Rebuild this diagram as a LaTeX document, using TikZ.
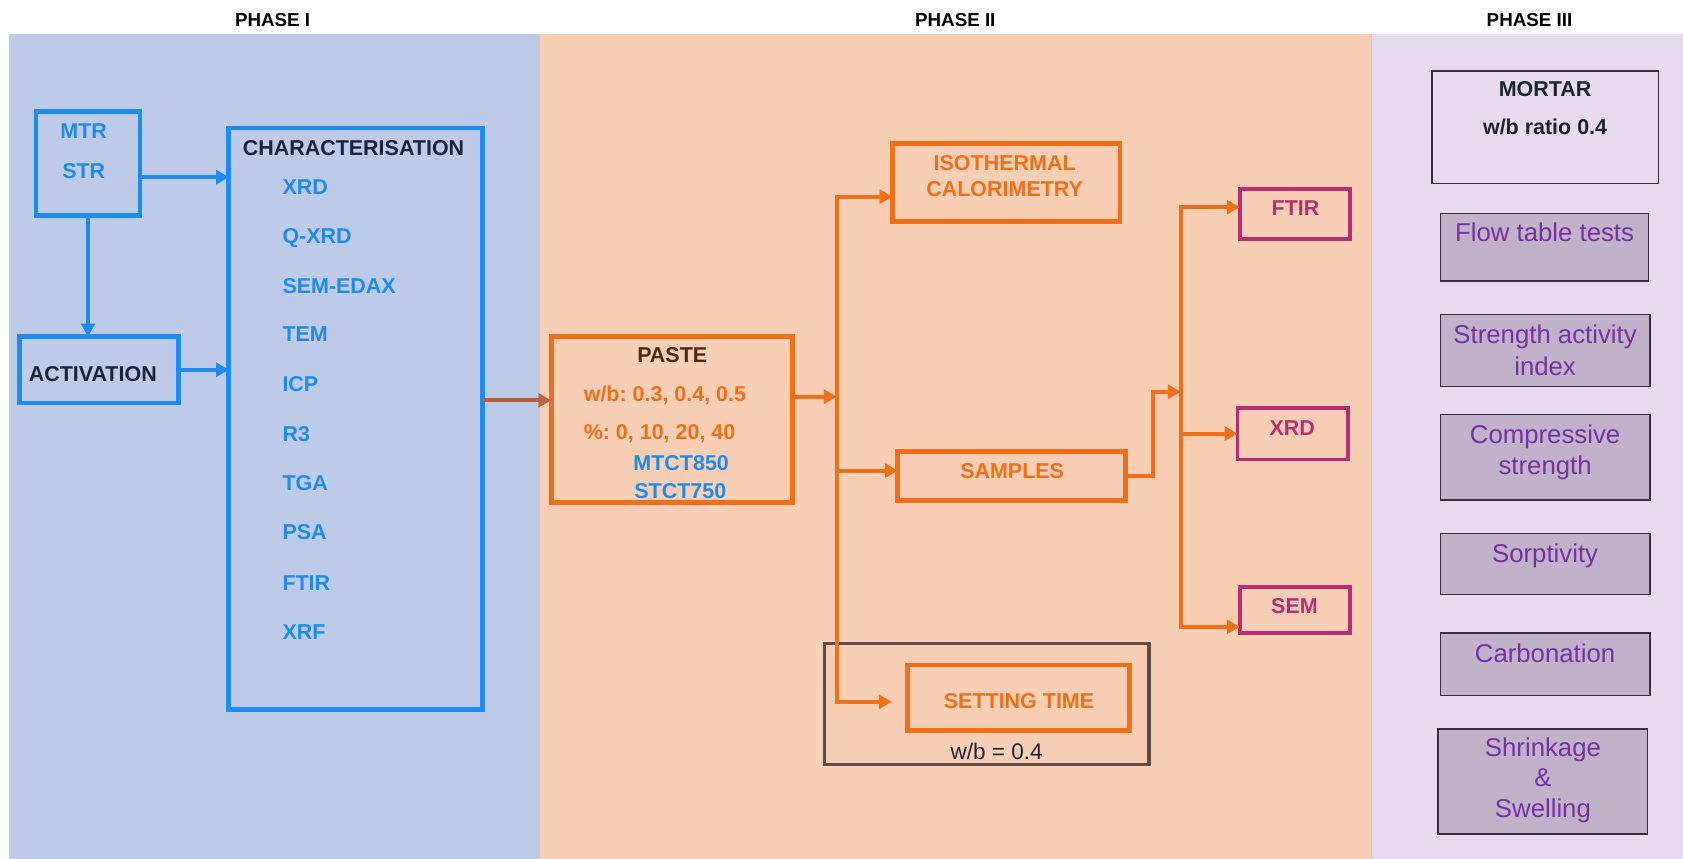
\documentclass[tikz,border=0pt]{standalone}
\usepackage{fontspec}
\setmainfont{Liberation Sans}
\usetikzlibrary{arrows.meta}
\definecolor{bgone}{RGB}{189,203,233}
\definecolor{bgtwo}{RGB}{248,206,180}
\definecolor{bgthree}{RGB}{230,218,238}
\definecolor{cblue}{RGB}{30,140,235}
\definecolor{corange}{RGB}{240,112,26}
\definecolor{cmag}{RGB}{185,45,115}
\definecolor{cbrown}{RGB}{185,100,65}
\definecolor{cdarkbox}{RGB}{95,75,72}
\definecolor{cnavy}{RGB}{30,35,55}
\definecolor{cpaste}{RGB}{75,42,25}
\definecolor{cpfill}{RGB}{192,178,200}
\definecolor{cptext}{RGB}{120,48,165}
\definecolor{cpline}{RGB}{55,45,65}
\frenchspacing
\begin{document}
\begin{tikzpicture}[x=1pt,y=-1pt,
  bbox/.style={draw=cblue,line width=4.5pt,inner sep=0,outer sep=0},
  obox/.style={draw=corange,line width=4.5pt,inner sep=0,outer sep=0},
  mbox/.style={draw=cmag,line width=3.5pt,inner sep=0,outer sep=0},
  pbox/.style={draw=cpline,line width=1.5pt,fill=cpfill,inner sep=0,outer sep=0},
  lb/.style={inner sep=0,anchor=base,font=\fontsize{20}{24}\selectfont\bfseries},
  lbw/.style={lb,anchor=base west},
  ptxt/.style={inner sep=0,anchor=base,text=cptext,font=\fontsize{24}{28}\selectfont},
  tip/.style={-{Triangle[length=12pt,width=13pt]}},
  barrow/.style={draw=cblue,line width=3.5pt,tip},
  oarrow/.style={draw=corange,line width=3.5pt,tip},
  oline/.style={draw=corange,line width=3.5pt,line cap=rect},
  brarrow/.style={draw=cbrown,line width=3.5pt,tip}]
\useasboundingbox (0,0) rectangle (1568,800);
% panels
\fill[bgone] (8,32) rectangle (503,800);
\fill[bgtwo] (503,32) rectangle (1278,800);
\fill[bgthree] (1278,32) rectangle (1568,800);
\draw[cbrown!40,line width=0.8pt] (503,32) -- (503,800);
\draw[cbrown!40,line width=0.8pt] (1278,32) -- (1278,800);
% phase titles
\node[lb,font=\fontsize{17.5}{20}\selectfont\bfseries] (p1) at (254,25) {PHASE I};
\node[lb,font=\fontsize{17.5}{20}\selectfont\bfseries] (p2) at (890,25) {PHASE II};
\node[lb,font=\fontsize{17.5}{20}\selectfont\bfseries] (p3) at (1425,25) {PHASE III};
% ---------- Phase I ----------
\node[bbox,minimum width=97,minimum height=97] (mtr) at (82,152) {};
\node[lb,text=cblue] (mtrt) at (78,128.8) {MTR};
\node[lb,text=cblue] (strt) at (78,166) {STR};
\node[bbox,minimum width=148,minimum height=62] (act) at (92.5,344.5) {};
\node[lbw,text=cnavy] (actt) at (26.6,355) {ACTIVATION};
\node[bbox,minimum width=236.5,minimum height=541.5] (char) at (331.5,390) {};
\node[lbw,text=cnavy] (chart) at (226,144.5) {CHARACTERISATION};
\node[lbw,text=cblue] (i1) at (263,180.8) {XRD};
\node[lbw,text=cblue] (i2) at (263,227) {Q-XRD};
\node[lbw,text=cblue] (i3) at (263,273) {SEM-EDAX};
\node[lbw,text=cblue] (i4) at (263,318.6) {TEM};
\node[lbw,text=cblue] (i5) at (263,365) {ICP};
\node[lbw,text=cblue] (i6) at (263,411.5) {R3};
\node[lbw,text=cblue] (i7) at (263,457.4) {TGA};
\node[lbw,text=cblue] (i8) at (263,503) {PSA};
\node[lbw,text=cblue] (i9) at (263,549.7) {FTIR};
\node[lbw,text=cblue] (i10) at (263,595.4) {XRF};
\coordinate (c1) at (0,165);
\coordinate (c3) at (0,373);
\draw[barrow] (mtr.east |- c1) -- (char.west |- c1);
\draw[barrow] (mtr.south) -- (mtr.south |- act.north);
\draw[barrow] (act.east) -- (char.west |- act.east);
% ---------- Phase II ----------
\node[obox,minimum width=225,minimum height=155] (paste) at (626,391) {};
\node[lbw,text=cpaste] (pastet) at (593.5,338) {PASTE};
\node[lbw,text=corange] (wbt) at (543.7,374) {w/b: 0.3, 0.4, 0.5};
\node[lbw,text=corange] (pct) at (543.7,409) {\%: 0, 10, 20, 40};
\node[lbw,text=cblue] (mt) at (590,438) {MTCT850};
\node[lbw,text=cblue] (st) at (590.8,464) {STCT750};
\draw[brarrow] (char.east |- c3) -- (paste.west |- c3);
\node[obox,minimum width=212,minimum height=73] (iso) at (937.5,170) {};
\node[lb,text=corange] (isot1) at (936,158.4) {ISOTHERMAL};
\node[lb,text=corange] (isot2) at (936,183.2) {CALORIMETRY};
\node[obox,minimum width=212,minimum height=46] (samples) at (942.5,443.5) {};
\node[lb,text=corange] (samt) at (943,445.5) {SAMPLES};
\node[draw=cdarkbox,line width=3pt,minimum width=302,minimum height=113,inner sep=0] (wbox) at (919.5,656) {};
\node[obox,minimum width=207,minimum height=61] (setting) at (949,650) {};
\node[lb,text=corange] (sett) at (949.4,659.8) {SETTING TIME};
\node[inner sep=0,anchor=base,font=\fontsize{21}{24}\selectfont,text=cnavy] (wbl) at (928.6,707.5) {w/b = 0.4};
\coordinate (t1top) at (779.5,183.2);
\coordinate (t1bot) at (779.5,653.8);
\coordinate (j1) at (779.5,369.6);
\coordinate (b2) at (779.5,438.5);
\coordinate (stend) at (830.8,653.8);
\draw[oline] (t1top) -- (t1bot);
\draw[oarrow] (paste.east |- j1) -- (j1);
\draw[oarrow] (t1top) -- (t1top -| iso.west);
\draw[oarrow] (b2) -- (b2 -| samples.west);
\draw[oarrow] (t1bot) -- (stend);
% second group
\node[mbox,minimum width=103,minimum height=47] (ftir) at (1206.5,199.5) {};
\node[lb,text=cmag] (ftirt) at (1207,201) {FTIR};
\node[mbox,minimum width=103,minimum height=48] (xrd) at (1204.5,404) {};
\node[lb,text=cmag] (xrdt) at (1204,406) {XRD};
\node[mbox,minimum width=103,minimum height=43] (sem) at (1206.5,568.5) {};
\node[lb,text=cmag] (semt) at (1206,572) {SEM};
\coordinate (k1) at (1074,365);
\coordinate (j2) at (1100,365);
\coordinate (t2top) at (1100,193);
\coordinate (t2mid) at (1100,404);
\coordinate (t2bot) at (1100,584);
\draw[oarrow,line join=miter] (samples.east) -| (k1) -- (j2);
\draw[oline] (t2top) -- (t2bot);
\draw[oarrow] (t2top) -- (t2top -| ftir.west);
\draw[oarrow] (t2mid) -- (t2mid -| xrd.west);
\draw[oarrow] (t2bot) -- (t2bot -| sem.west);
% ---------- Phase III ----------
\node[draw=cpline,line width=1.5pt,fill=bgthree,minimum width=211,minimum height=105,inner sep=0] (mortar) at (1439.5,118.5) {};
\node[lb,text=cnavy] (mortt) at (1439.5,89.5) {MORTAR};
\node[lb,text=cnavy] (mortw) at (1439.5,125) {w/b ratio 0.4};
\node[pbox,minimum width=194,minimum height=63] (flow) at (1439,230.5) {};
\node[ptxt] (flowt) at (1439,225) {Flow table tests};
\node[pbox,minimum width=195,minimum height=67] (sai) at (1439.5,326.5) {};
\node[ptxt] (sait1) at (1439.5,320) {Strength activity};
\node[ptxt] (sait2) at (1439.5,349.5) {index};
\node[pbox,minimum width=195,minimum height=80] (comp) at (1439.5,426) {};
\node[ptxt] (compt1) at (1439.5,413) {Compressive};
\node[ptxt] (compt2) at (1439.5,442.5) {strength};
\node[pbox,minimum width=195,minimum height=57] (sorp) at (1439.5,525.5) {};
\node[ptxt] (sorpt) at (1439.5,523.6) {Sorptivity};
\node[pbox,minimum width=195,minimum height=58] (carb) at (1439.5,619) {};
\node[ptxt] (carbt) at (1439.5,617) {Carbonation};
\node[pbox,minimum width=195,minimum height=98] (shr) at (1437.5,728) {};
\node[ptxt] (shrt1) at (1437.5,705) {Shrinkage};
\node[ptxt] (shrt2) at (1437.5,733) {\&};
\node[ptxt] (shrt3) at (1437.5,762) {Swelling};
\end{tikzpicture}
\end{document}
